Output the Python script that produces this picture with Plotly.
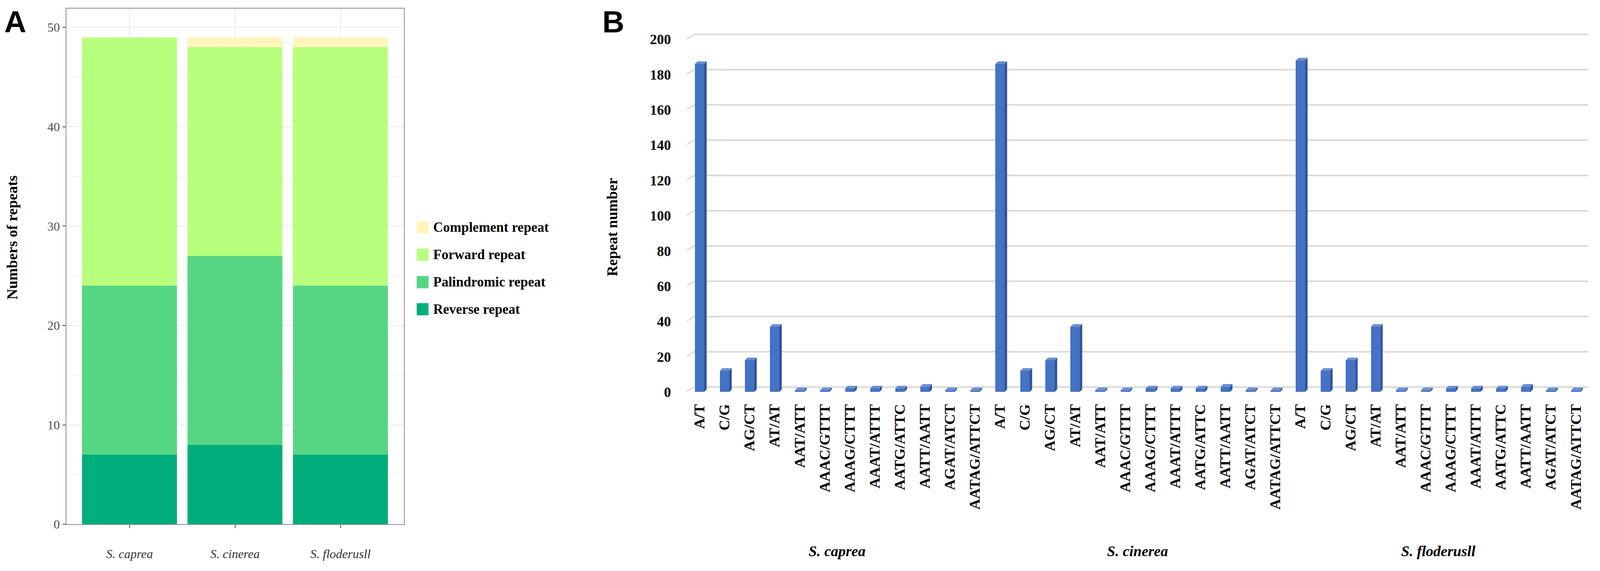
import plotly.graph_objects as go

W, H = 4316, 1463  # design reference size (positions below are fractions of it)

# ---------------- Panel A data ----------------
species = ["S. caprea", "S. cinerea", "S. floderusll"]
reverse_rep = [7, 8, 7]
palindromic_rep = [17, 19, 17]
forward_rep = [25, 21, 24]
complement_rep = [0, 1, 1]
series_names = ["Reverse repeat", "Palindromic repeat", "Forward repeat", "Complement repeat"]
series_colors = ["#00AE7C", "#56D685", "#B7FF7D", "#FFF6BC"]
a_yticks = [0, 10, 20, 30, 40, 50]

# ---------------- Panel B data ----------------
motifs = ["A/T", "C/G", "AG/CT", "AT/AT", "AAT/ATT", "AAAC/GTTT", "AAAG/CTTT",
          "AAAT/ATTT", "AATG/ATTC", "AATT/AATT", "AGAT/ATCT", "AATAG/ATTCT"]
ssr_caprea = [186, 12, 18, 37, 1, 1, 2, 2, 2, 3, 1, 1]
ssr_cinerea = [186, 12, 18, 37, 1, 1, 2, 2, 2, 3, 1, 1]
ssr_floderusll = [188, 12, 18, 37, 1, 1, 2, 2, 2, 3, 1, 1]
b_yticks = list(range(0, 201, 20))

SERIF = "Liberation Serif"
SANS = "Liberation Sans"

fig = go.Figure()

# ---------- Panel A: stacked bars ----------
series_vals = [reverse_rep, palindromic_rep, forward_rep, complement_rep]
for name, col, vals in zip(series_names, series_colors, series_vals):
    fig.add_trace(go.Bar(x=species, y=vals, name=name, marker=dict(color=col, line=dict(width=0)),
                         width=0.9, xaxis="x", yaxis="y", showlegend=False))

# ---------- Panel B: pseudo-3D columns ----------
groups = [ssr_caprea, ssr_cinerea, ssr_floderusll]
xs, vals, labels = [], [], []
for g, arr in enumerate(groups):
    for j, (m, v) in enumerate(zip(motifs, arr)):
        xs.append(g * len(motifs) + j)
        vals.append(v)
        labels.append(m)

bw, dx, dy = 0.37, 0.10, 1.5
sx, sy, tx, ty = [], [], [], []
for x, v in zip(xs, vals):
    l, r = x - bw / 2, x + bw / 2
    sx += [r, r, r + dx, r + dx, r, None]
    sy += [0, v, v + dy, dy, 0, None]
    tx += [l, r, r + dx, l + dx, l, None]
    ty += [v, v, v + dy, v + dy, v, None]

fig.add_trace(go.Bar(x=xs, y=vals, width=bw, marker=dict(color="#4472C4", line=dict(width=0)),
                     xaxis="x2", yaxis="y2", showlegend=False))
fig.add_trace(go.Scatter(x=sx, y=sy, fill="toself", fillcolor="#2F5597", mode="lines",
                         line=dict(width=0, color="#2F5597"), xaxis="x2", yaxis="y2",
                         showlegend=False, hoverinfo="skip"))
fig.add_trace(go.Scatter(x=tx, y=ty, fill="toself", fillcolor="#6A8ED4", mode="lines",
                         line=dict(width=0, color="#6A8ED4"), xaxis="x2", yaxis="y2",
                         showlegend=False, hoverinfo="skip"))

shapes = []
n_cat = len(xs)
for t in b_yticks:
    shapes.append(dict(type="line", xref="x2", yref="y2", x0=-0.6, y0=t - 0.6, x1=-0.22, y1=t + 2.8,
                       line=dict(color="#D9D9D9", width=3), layer="below"))
    shapes.append(dict(type="line", xref="x2", yref="y2", x0=-0.22, y0=t + 2.8, x1=n_cat - 0.3, y1=t + 2.8,
                       line=dict(color="#D9D9D9", width=4), layer="below"))

# ---------- Manual legend for panel A ----------
annotations = []
legend_rows = [588, 660, 732, 803]
for k, idx in enumerate([3, 2, 1, 0]):
    yc = legend_rows[k]
    shapes.append(dict(type="rect", xref="paper", yref="paper",
                       x0=1120 / W, x1=1152 / W, y0=1 - (yc + 16) / H, y1=1 - (yc - 16) / H,
                       fillcolor=series_colors[idx], line=dict(width=0)))
    annotations.append(dict(x=1163 / W, y=1 - yc / H, xref="paper", yref="paper",
                            text="<b>%s</b>" % series_names[idx], showarrow=False,
                            xanchor="left", yanchor="middle",
                            font=dict(family=SERIF, size=35, color="black")))

# panel letters and titles
annotations += [
    dict(x=33 / W, y=1 - 2 / H, xref="paper", yref="paper", text="<b>A</b>", showarrow=False,
         xanchor="center", yanchor="top", font=dict(family=SANS, size=78, color="black")),
    dict(x=1652 / W, y=1 - 2 / H, xref="paper", yref="paper", text="<b>B</b>", showarrow=False,
         xanchor="center", yanchor="top", font=dict(family=SANS, size=78, color="black")),
    dict(x=24 / W, y=1 - 615 / H, xref="paper", yref="paper", text="<b>Numbers of repeats</b>",
         textangle=-90, showarrow=False, xanchor="center", yanchor="middle",
         font=dict(family=SERIF, size=38, color="black")),
    dict(x=1650 / W, y=1 - 588 / H, xref="paper", yref="paper", text="<b>Repeat number</b>",
         textangle=-90, showarrow=False, xanchor="center", yanchor="middle",
         font=dict(family=SERIF, size=38, color="black")),
]
for g, sp in enumerate(species):
    center = g * len(motifs) + (len(motifs) - 1) / 2
    annotations.append(dict(x=center, y=1 - 1437 / H, xref="x2", yref="paper",
                            text="<b><i>%s</i></b>" % sp, showarrow=False,
                            xanchor="center", yanchor="middle",
                            font=dict(family=SERIF, size=38, color="black")))

fig.update_layout(
    autosize=True, margin=dict(l=0, r=0, t=0, b=0),
    paper_bgcolor="white", plot_bgcolor="white",
    barmode="stack", bargap=0.1,
    shapes=shapes, annotations=annotations,
    xaxis=dict(domain=[171 / W, 1085 / W], anchor="y", type="category", range=[-0.6, 2.6],
               showgrid=True, gridcolor="#EBEBEB", gridwidth=2,
               showline=True, linecolor="#8C8C8C", linewidth=2, mirror=True,
               ticks="outside", ticklen=8, tickwidth=2, tickcolor="#4D4D4D",
               ticklabelstandoff=38,
               tickfont=dict(family=SERIF, size=32, color="#333333"),
               tickvals=species, ticktext=["<i>%s</i>" % s for s in species], zeroline=False),
    yaxis=dict(domain=[1 - 1367 / H, 1 - 14 / H], anchor="x", range=[0, 51.9],
               tickvals=a_yticks, showgrid=True, gridcolor="#EBEBEB", gridwidth=2,
               minor=dict(dtick=5, showgrid=True, gridcolor="#F4F4F4", gridwidth=2),
               showline=True, linecolor="#8C8C8C", linewidth=2, mirror=True,
               ticks="outside", ticklen=8, tickwidth=2, tickcolor="#4D4D4D",
               tickfont=dict(family=SERIF, size=32, color="#4D4D4D"), zeroline=False,
               tickprefix="<b>", ticksuffix="</b>"),
    xaxis2=dict(domain=[1852 / W, 4293 / W], anchor="y2", range=[-0.5, n_cat - 0.5],
                showgrid=False, zeroline=False, showline=False, ticks="",
                tickmode="array", tickvals=xs, ticktext=["<b>%s</b>" % s for s in labels],
                tickangle=-90, ticklabelstandoff=8,
                tickfont=dict(family=SERIF, size=38, color="black")),
    yaxis2=dict(domain=[1 - 1035 / H, 1 - 60 / H], anchor="x2", range=[-15 / 4.625, 960 / 4.625],
                showgrid=False, zeroline=False, showline=False, ticks="",
                tickmode="array", tickvals=b_yticks, ticktext=["<b>%d</b>" % t for t in b_yticks],
                ticklabelstandoff=40,
                tickfont=dict(family=SERIF, size=36, color="black")),
)

fig.write_html("out.html")
